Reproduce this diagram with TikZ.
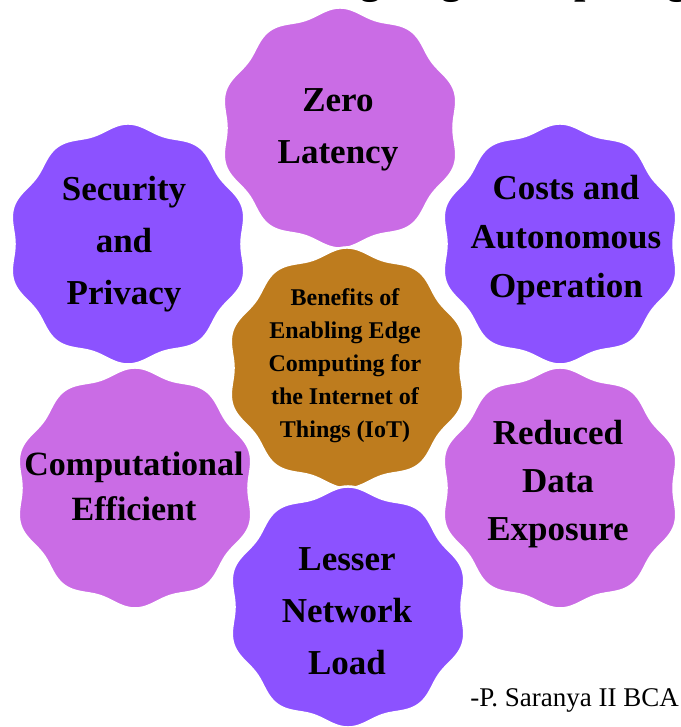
\documentclass[tikz,border=0pt]{standalone}
\usepackage{fontspec}
\setmainfont{Liberation Serif}
\definecolor{orchidc}{HTML}{CA6CE5}
\definecolor{violetc}{HTML}{8C52FF}
\definecolor{ochrec}{HTML}{BE7C1E}
\tikzset{
  wavy/.pic={
    \fill[pic actions]
      plot[domain=0:360, samples=361, variable=\t]
        ({117*(1+0.03*cos(10*(\t-90)))*cos(\t)},
         {117*(1+0.03*cos(10*(\t-90)))*sin(\t)}) -- cycle;
  },
  blob/.style={draw=white, line width=2.5pt},
  label/.style={align=center, inner sep=0pt, text=black,
    font=\bfseries\fontsize{35}{52}\selectfont},
  corelabel/.style={align=center, inner sep=0pt, text=black,
    font=\bfseries\fontsize{24}{33}\selectfont},
}
\begin{document}
\begin{tikzpicture}[x=1pt, y=1pt]
  \useasboundingbox (0,0) rectangle (680,727);

  % heading running off the top edge
  \begin{scope}
    \clip (0,0) rectangle (680,727);
    \node[anchor=base west, inner sep=0pt, font=\bfseries\fontsize{41}{41}\selectfont]
      (heading) at (221,733) {Enabling Edge Computing};
  \end{scope}

  % wavy discs
  \pic[blob, fill=orchidc] at (340,599) {wavy};
  \pic[blob, fill=violetc] at (128,483) {wavy};
  \pic[blob, fill=violetc] at (560,483) {wavy};
  \pic[blob, fill=orchidc] at (135,239) {wavy};
  \pic[blob, fill=orchidc] at (560,239) {wavy};
  \pic[blob, fill=ochrec]  at (347,359) {wavy};
  \pic[blob, fill=violetc] at (348,120) {wavy};

  % labels
  \node[label] (zero) at (338,597) {Zero\\Latency};
  \node[label] (security) at (124,483) {Security\\and\\Privacy};
  \node[label, font=\bfseries\fontsize{35}{49}\selectfont] (costs) at (566,487)
    {Costs and\\Autonomous\\Operation};
  \node[corelabel] (core) at (345,361)
    {Benefits of\\Enabling Edge\\Computing for\\the Internet of\\Things (IoT)};
  \node[label, font=\bfseries\fontsize{34}{45}\selectfont] (comp) at (134,241)
    {Computational\\Efficient};
  \node[label, font=\bfseries\fontsize{35}{48}\selectfont] (reduced) at (558,243)
    {Reduced\\Data\\Exposure};
  \node[label] (lesser) at (347,116) {Lesser\\Network\\Load};

  \node[anchor=base east, inner sep=0pt, font=\fontsize{27}{27}\selectfont]
    (author) at (679,20) {-P. Saranya II BCA};
\end{tikzpicture}
\end{document}
